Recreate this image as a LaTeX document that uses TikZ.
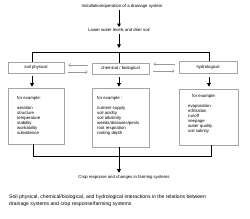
\documentclass[tikz,border=0pt]{standalone}
\usepackage{fontspec}
\setmainfont{Liberation Sans}
\usetikzlibrary{arrows.meta,calc}
\begin{document}
\begin{tikzpicture}[x=1pt,y=-1pt,
  txt/.style={font=\fontsize{4.3}{5}\selectfont, inner sep=0pt},
  lst/.style={txt, align=left, anchor=north west},
  bx/.style={draw=gray!70, line width=0.5pt, inner sep=0pt, font=\fontsize{4.3}{5}\selectfont},
  conn/.style={draw=black, line width=0.9pt},
  arr/.style={-{Triangle[width=3.6pt,length=3.6pt]}},
  dbl/.style={draw=gray!80, line width=0.5pt, -{Straight Barb[length=2pt,width=3pt]}}
]
\useasboundingbox[fill=white] (0,0) rectangle (250,218);

% top texts
\node[txt] (t1) at (122,6) {Installation/operation of a drainage system};
\node[txt] (t2) at (119,30) {Lower water levels and drier soil};

% first row boxes
\node[bx, minimum width=56pt, minimum height=11pt] (b1) at (36,67.5) {soil physical};
\node[bx, minimum width=57pt, minimum height=11pt] (b2) at (120.5,68.5) {chemical / biological};
\node[bx, minimum width=58pt, minimum height=12pt] (b3) at (208,67) {hydrological};

% second row boxes
\node[bx, minimum width=56pt, minimum height=56pt] (e1) at (36,116) {};
\node[bx, minimum width=57pt, minimum height=59pt] (e2) at (120.5,117.5) {};
\node[bx, minimum width=59pt, minimum height=56pt] (e3) at (208.5,117) {};

\node[lst] (l1) at (17,96) {for example:\\[5pt]aeration\\structure\\temperature\\stability\\workability\\subsidence};
\node[lst] (l2) at (97,96) {for example :\\[5pt]nutrient supply\\soil acidity\\soil alkalinity\\weeds/diseases/pests\\root respiration\\rooting depth};
\node[lst] (l3a) at (192,94) {for example:};
\node[lst] (l3) at (188,104) {evaporation\\infiltration\\runoff\\seepage\\water quality\\soil salinity};

% bottom texts
\node[txt] (crop) at (124,177.5) {Crop response and changes in farming systems};
\node[txt, font=\fontsize{5.1}{6.3}\selectfont, align=left, anchor=north west] (cap) at (9,195)
  {Soil physical, chemical/biological, and hydrological interactions in the relations between\\drainage systems and crop response/farming systems};

% junction coordinates
\coordinate (hl) at (32,52);
\coordinate (hm) at (119,52);
\coordinate (hr) at (209,52);
\coordinate (gl) at (33,156.5);
\coordinate (gm) at (119,156.5);
\coordinate (gr) at (211,156.5);

% top arrows
\draw[conn,arr,shorten <=1.5pt] (t1.south -| hm) -- ($(t2.north -| hm)+(0,-1)$);
\draw[conn,arr,shorten <=2.5pt,shorten >=4pt] (t2.south -| hm) -- (hm);
\draw[conn] (hl |- b1.north) -- (hl) -- (hr) -- (hr |- b3.north);
\draw[conn] (hm) -- (hm |- b2.north);

% double arrows
\draw[dbl] ($(b2.west)+(-4,-3.5)$) -- ($(b1.east |- b2.west)+(4,-3.5)$);
\draw[dbl] ($(b1.east |- b2.west)+(4,3.5)$) -- ($(b2.west)+(-4,3.5)$);
\draw[dbl] ($(b3.west |- b2.east)+(-4,-4.5)$) -- ($(b2.east)+(4,-4.5)$);
\draw[dbl] ($(b2.east)+(4,2.5)$) -- ($(b3.west |- b2.east)+(-4,2.5)$);

% down arrows
\draw[conn,arr,shorten <=3pt,shorten >=1pt] (b1.south -| hl) -- (e1.north -| hl);
\draw[conn,arr,shorten <=3pt,shorten >=1pt] (b2.south -| hm) -- (e2.north -| hm);
\draw[conn,arr,shorten <=4pt,shorten >=2pt] (b3.south -| hr) -- (e3.north -| hr);

% bottom connectors
\draw[conn] (e1.south -| gl) -- (gl) -- (gr) -- (e3.south -| gr);
\draw[conn,arr,shorten >=2.5pt] (e2.south -| gm) -- (crop.north -| gm);
\end{tikzpicture}
\end{document}
